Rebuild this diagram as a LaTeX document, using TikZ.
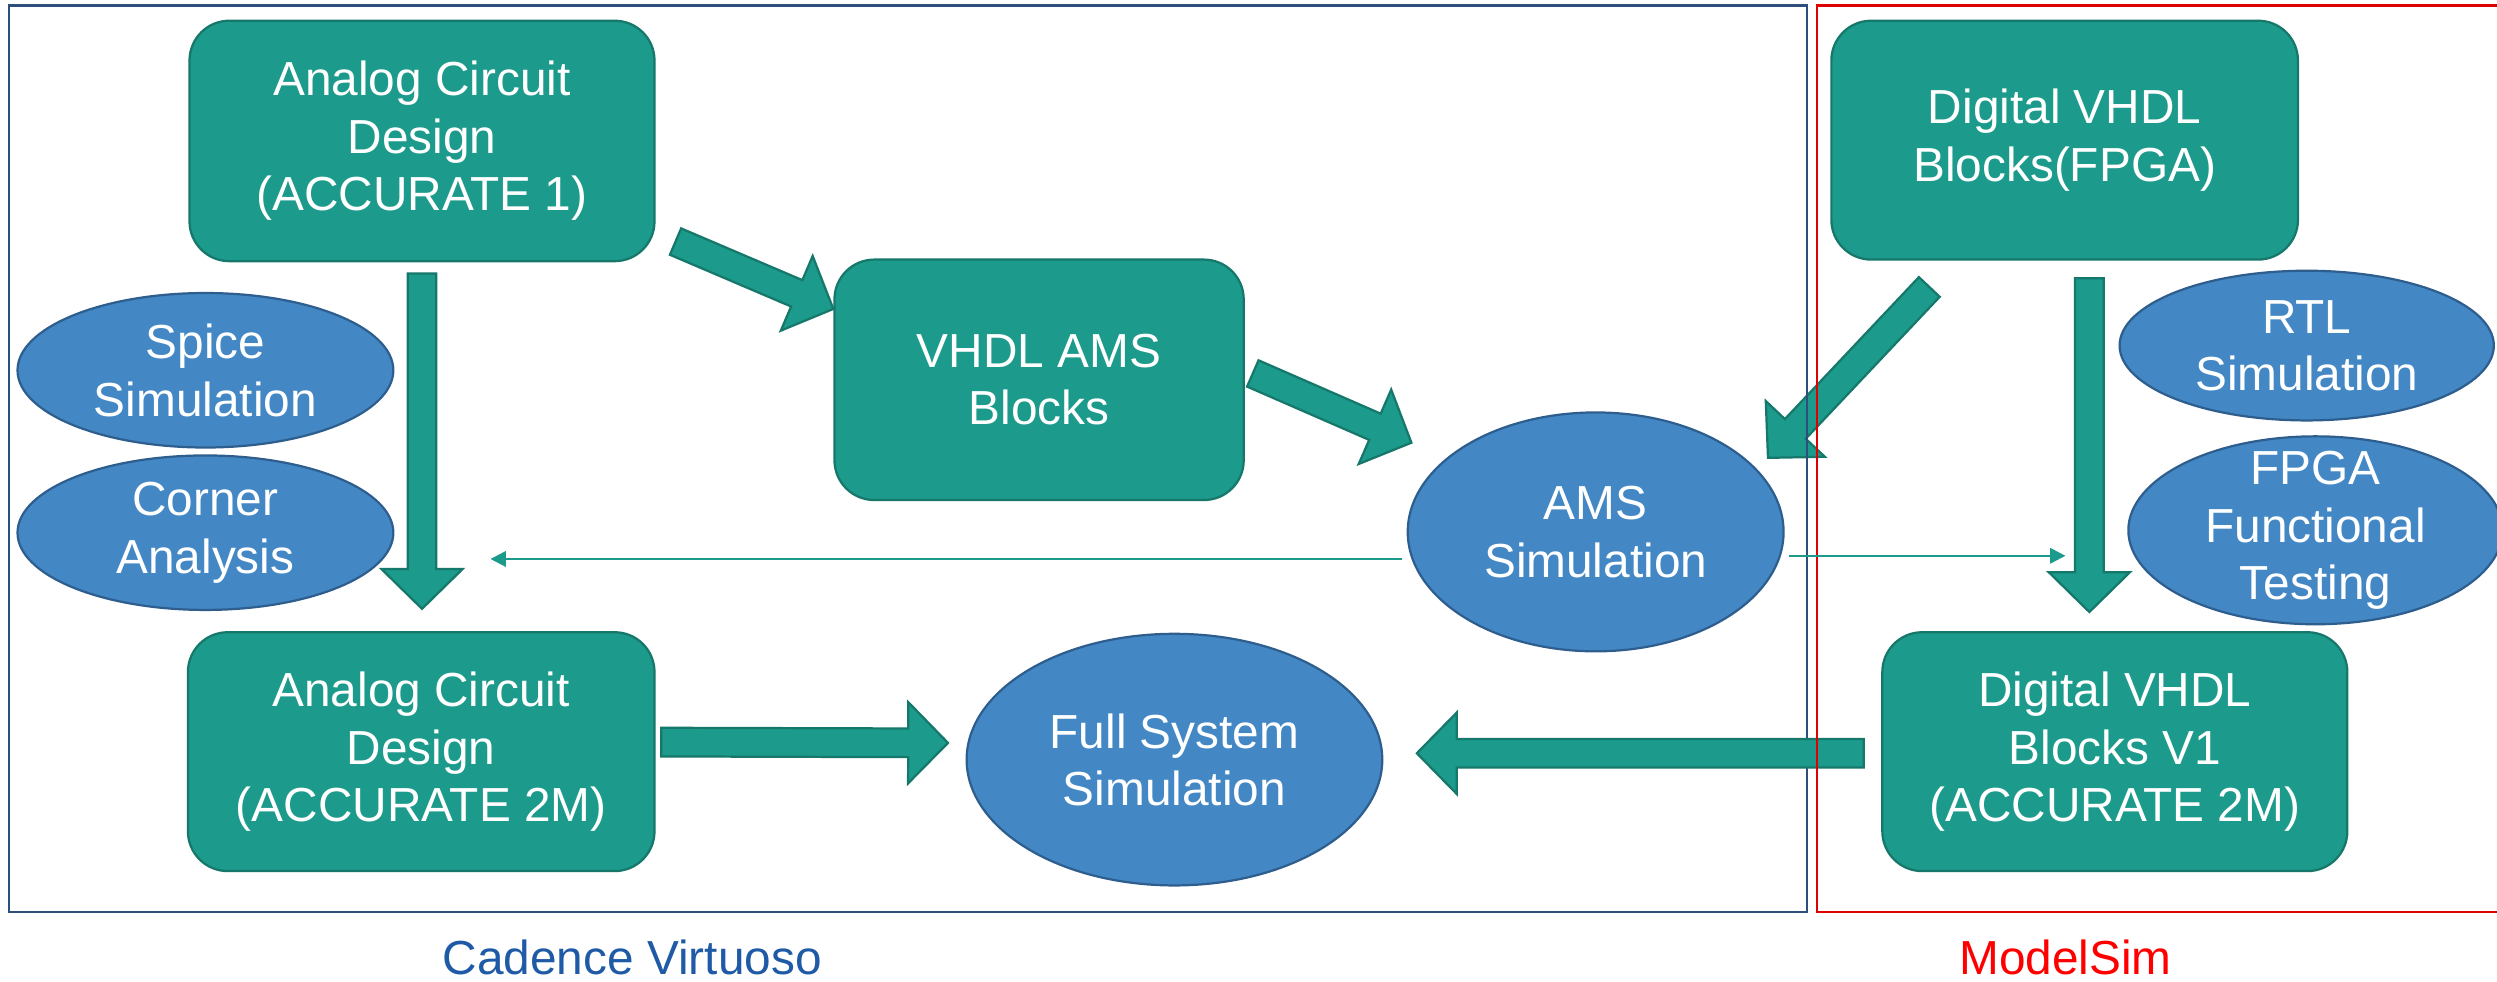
\documentclass[tikz,border=0pt]{standalone}
\usepackage{fontspec}
\setmainfont{Liberation Sans}
\usetikzlibrary{calc,arrows.meta,shapes.geometric}
\definecolor{tealfill}{HTML}{1C9A8B}
\definecolor{tealline}{HTML}{16776B}
\definecolor{ellfill}{HTML}{4388C5}
\definecolor{ellline}{HTML}{2E5E8E}
\definecolor{frameblue}{HTML}{2C4F7C}
\definecolor{labelblue}{HTML}{1F5AA6}
\definecolor{framered}{HTML}{E00000}
\definecolor{labelred}{HTML}{FF0000}
\newcommand{\txtfont}{\fontsize{15}{18}\selectfont}
\tikzset{
  box/.style={draw=tealline, fill=tealfill, line width=0.7pt, rounded corners=12.5pt,
    text=white, align=center, font=\txtfont, inner sep=0pt},
  ell/.style={ellipse, draw=ellline, fill=ellfill, line width=0.7pt, inner sep=0pt},
  elltext/.style={text=white, align=center, font=\txtfont, inner sep=0pt},
  blockarr/.style={draw=tealline, fill=tealfill, line width=0.7pt, line join=miter},
  thinarr/.style={draw=tealfill, line width=0.7pt, -{Triangle[length=4.8pt,width=4.8pt]}},
  framebox/.style={line width=0.7pt},
  lab/.style={font=\txtfont, inner sep=0pt, anchor=base}
}
% block arrow from coordinate #1 (start) to coordinate #2 (tip)
\newcommand{\blockarrow}[2]{%
  \path ($(#2)!12.5pt!(#1)$) coordinate (hb);
  \draw[blockarr] ($(#1)!4.5pt!90:(#2)$) -- ($(hb)!4.5pt!90:(#2)$) --
    ($(hb)!12.75pt!90:(#2)$) -- (#2) -- ($(hb)!12.75pt!-90:(#2)$) --
    ($(hb)!4.5pt!-90:(#2)$) -- ($(#1)!4.5pt!-90:(#2)$) -- cycle;
}
\begin{document}
\begin{tikzpicture}[x=0.5pt,y=-0.5pt]
\useasboundingbox (0,0) rectangle (1568,616.6);
\clip (0,0) rectangle (1568,616.6);

% nodes
\path
  node[box, minimum width=146pt, minimum height=75.5pt] (a1) at (265,88.5)
    {Analog Circuit\\Design\\(ACCURATE 1)}
  node[box, minimum width=128.5pt, minimum height=75.5pt] (vams) at (652.5,238.5)
    {VHDL AMS\\Blocks}
  node[box, minimum width=146.5pt, minimum height=75pt] (a2) at (264.5,472)
    {Analog Circuit\\Design\\(ACCURATE 2M)}
  node[box, minimum width=146.5pt, minimum height=75pt] (df) at (1296.5,88)
    {Digital VHDL\\Blocks(FPGA)}
  node[box, minimum width=146pt, minimum height=75pt] (dv1) at (1328,472)
    {Digital VHDL\\Blocks V1\\(ACCURATE 2M)};
\path
  node[ell, minimum width=118pt, minimum height=48.5pt,
    label={[elltext]center:{Spice\\Simulation}}] (spice) at (129,232.5) {}
  node[ell, minimum width=118pt, minimum height=48.5pt,
    label={[elltext]center:{Corner\\Analysis}}] (corner) at (129,334.5) {}
  node[ell, minimum width=118pt, minimum height=75pt,
    label={[elltext]center:{AMS\\Simulation}}] (ams) at (1002,334) {}
  node[ell, minimum width=130.5pt, minimum height=79pt,
    label={[elltext]center:{Full System\\Simulation}}] (full) at (737.5,477) {}
  node[ell, minimum width=117.5pt, minimum height=47pt,
    label={[elltext]center:{RTL\\Simulation}}] (rtl) at (1448.5,217) {}
  node[ell, minimum width=117.5pt, minimum height=59pt,
    label={[elltext]center:{FPGA\\Functional\\Testing}}] (fpga) at (1454,333) {};

% arrow end coordinates
\coordinate (s4) at ($(df.south)+(-85,16.5)$);
\coordinate (t4) at ($(ams.east)+(-10.5,-46.5)$);
\coordinate (s1) at ($(a1.south)+(0,7)$);
\coordinate (t1) at ($(a2.north)+(0.5,-14)$);
\coordinate (s2) at ($(a1.south east)+(12.5,-13)$);
\coordinate (t2) at ($(vams.west)+(0,-44.5)$);
\coordinate (s3) at ($(vams.east)+(5,-4)$);
\coordinate (t3) at ($(ams.west)+(3,-56)$);
\coordinate (s5) at ($(df.south)+(15.5,11)$);
\coordinate (t5) at ($(dv1.north)+(-16,-12)$);
\coordinate (s6) at ($(a2.east)+(3.5,-6)$);
\coordinate (t6) at ($(full.west)+(-11,-10.5)$);
\coordinate (s7) at ($(dv1.west)+(-11,1)$);
\coordinate (t7) at ($(full.east)+(21,-4)$);

\blockarrow{s4}{t4}

% Cadence frame
\draw[framebox, frameblue] (5.5,3.5) rectangle (1134.5,572.5);

\blockarrow{s1}{t1}
\blockarrow{s2}{t2}
\blockarrow{s3}{t3}
\blockarrow{s5}{t5}
\blockarrow{s6}{t6}
\blockarrow{s7}{t7}

% ModelSim frame
\draw[framebox, framered] (1141,3.5) rectangle (1590,572.5);

% thin arrows
\coordinate (tl) at (308,351);
\coordinate (tr) at (1297,349);
\draw[thinarr] ($(ams.west)+(-3,17)$) -- (tl);
\draw[thinarr] ($(ams.east)+(3,15)$) -- (tr);

% labels
\node[lab, text=labelblue] (cad) at (397,612) {Cadence Virtuoso};
\node[lab, text=labelred] (msim) at (1297,612) {ModelSim};
\end{tikzpicture}
\end{document}
